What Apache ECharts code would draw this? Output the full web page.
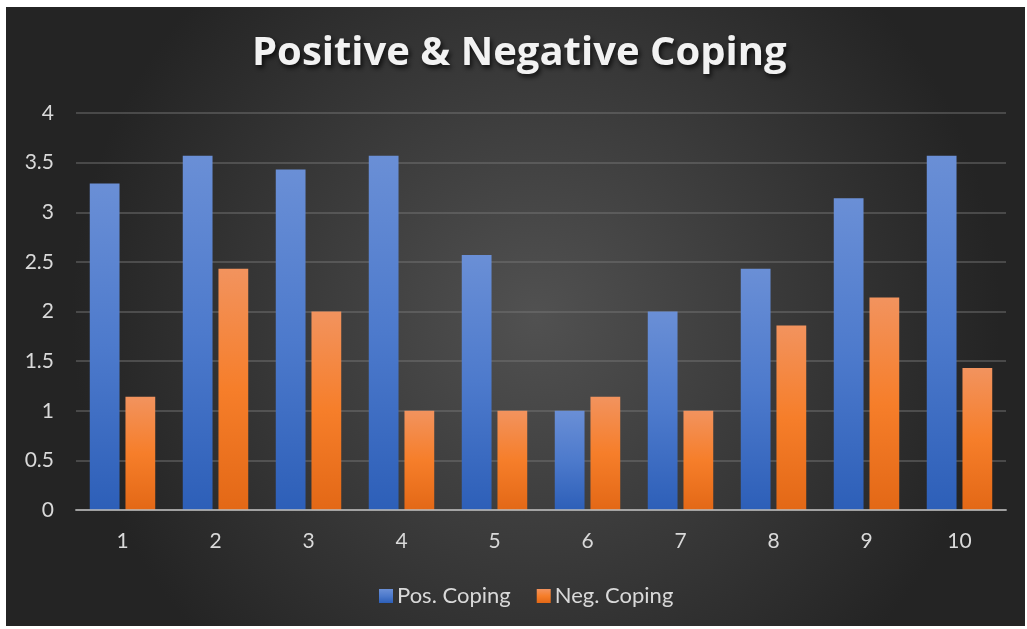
<!DOCTYPE html>
<html>
<head>
<meta charset="utf-8">
<script src="https://cdn.jsdelivr.net/npm/echarts@6/dist/echarts.min.js"></script>
<style>
  html, body { margin: 0; padding: 0; background: #ffffff; }
  #chart { position: absolute; left: 6px; top: 7px; width: 1019px; height: 619px; }
</style>
</head>
<body>
<div id="chart"></div>
<script>
// Survey items 1..10 and mean coping scores
const categories = ['1', '2', '3', '4', '5', '6', '7', '8', '9', '10'];
const posCoping = [3.29, 3.57, 3.43, 3.57, 2.57, 1.00, 2.00, 2.43, 3.14, 3.57];
const negCoping = [1.14, 2.43, 2.00, 1.00, 1.00, 1.14, 1.00, 1.86, 2.14, 1.43];
const seriesNames = ['Pos. Coping', 'Neg. Coping'];

const FONT = 'Lato, "Open Sans", sans-serif';

const blueFill = new echarts.graphic.LinearGradient(0, 0, 0, 1, [
  { offset: 0, color: '#6a8fd6' },
  { offset: 0.5, color: '#4d7acc' },
  { offset: 1, color: '#2d5fb8' }
]);
const orangeFill = new echarts.graphic.LinearGradient(0, 0, 0, 1, [
  { offset: 0, color: '#f2935e' },
  { offset: 0.5, color: '#f67e2a' },
  { offset: 1, color: '#e36816' }
]);

const chart = echarts.init(document.getElementById('chart'));
chart.setOption({
  backgroundColor: new echarts.graphic.RadialGradient(0.52, 0.5, 0.75, [
    { offset: 0, color: '#515151' },
    { offset: 1, color: '#242424' }
  ]),
  title: {
    text: 'Positive & Negative Coping',
    left: 241,
    top: 22,
    textStyle: {
      fontFamily: '"Open Sans", Lato, sans-serif',
      fontSize: 40,
      fontWeight: 'bold',
      color: '#f2f2f2',
      textShadowColor: 'rgba(0,0,0,0.75)',
      textShadowBlur: 5,
      textShadowOffsetX: 2,
      textShadowOffsetY: 3
    }
  },
  legend: {
    data: seriesNames,
    bottom: 14,
    left: 368,
    itemWidth: 14,
    itemHeight: 14,
    itemGap: 26,
    icon: 'rect',
    textStyle: { fontFamily: FONT, fontSize: 22, color: '#d9d9d9', padding: [0, 0, 0, -1] }
  },
  grid: { left: 70, right: 19, top: 106, bottom: 116 },
  xAxis: {
    type: 'category',
    data: categories,
    z: 5,
    axisLine: { lineStyle: { color: 'rgba(190,190,190,0.75)', width: 2 } },
    axisTick: { show: false },
    axisLabel: { fontFamily: FONT, fontSize: 21, color: '#d9d9d9', margin: 21 }
  },
  yAxis: {
    type: 'value',
    min: 0,
    max: 4,
    interval: 0.5,
    axisLine: { show: false },
    axisTick: { show: false },
    splitLine: { lineStyle: { color: 'rgba(120,120,120,0.45)', width: 2 } },
    axisLabel: { fontFamily: FONT, fontSize: 21, color: '#d9d9d9', margin: 22 }
  },
  series: [
    {
      name: seriesNames[0],
      type: 'bar',
      data: posCoping,
      barWidth: '32%',
      barGap: '20%',
      itemStyle: {
        color: blueFill,
        shadowColor: 'rgba(0,0,0,0.55)',
        shadowBlur: 10,
        shadowOffsetX: 1,
        shadowOffsetY: 1
      }
    },
    {
      name: seriesNames[1],
      type: 'bar',
      data: negCoping,
      barWidth: '32%',
      barGap: '20%',
      itemStyle: {
        color: orangeFill,
        shadowColor: 'rgba(0,0,0,0.55)',
        shadowBlur: 10,
        shadowOffsetX: 1,
        shadowOffsetY: 1
      }
    }
  ]
});
</script>
</body>
</html>
